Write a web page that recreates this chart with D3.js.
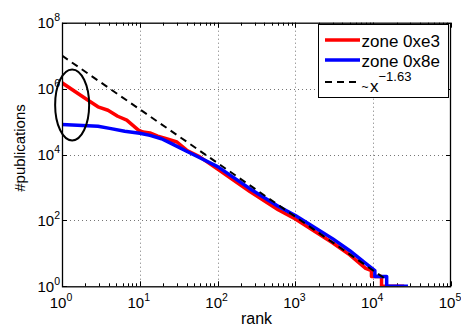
<!DOCTYPE html>
<html>
<head>
<meta charset="utf-8">
<script src="https://cdn.jsdelivr.net/npm/d3@7"></script>
<style>
  body { margin: 0; background: #fff; }
  svg { display: block; font-family: "Liberation Sans", Arial, sans-serif; }
</style>
</head>
<body>
<div id="chart"></div>
<script>
// zone 0xe3 (red)
const redRank = [1, 2, 2.9, 3.9, 5.2, 6.8, 9.6, 11, 13.5, 17, 22, 30, 40, 59, 100, 260, 600, 1000, 3000, 5000, 8000, 9500, 9500, 12800, 12800, 25000];
const redVal  = [1.5e6, 5e5, 2.8e5, 2.2e5, 1.45e5, 1.1e5, 5.5e4, 4.8e4, 4.5e4, 3.6e4, 3.0e4, 2.4e4, 1.35e4, 8.5e3, 3.6e3, 750, 210, 110, 21, 9, 3.5, 3, 2, 2, 1, 1];

// zone 0x8e (blue)
const blueRank = [1, 2.9, 4.1, 6.4, 10, 13.5, 19, 26, 40, 60, 100, 260, 600, 1000, 3000, 5000, 8000, 10500, 10500, 14900, 14900, 28000];
const blueVal  = [8.1e4, 7.2e4, 6.2e4, 5.1e4, 4.4e4, 3.8e4, 3.0e4, 2.1e4, 1.25e4, 7.8e3, 4.3e3, 920, 270, 140, 28, 12, 5, 3, 2, 2, 1, 1];

// power law fit ~ x^-1.63
const fitCoef = 1e7;
const fitExp = -1.63;
const fitRank = [1, 15000];

const xTicks = [1, 10, 100, 1000, 10000, 100000];
const yTicks = [1, 100, 1e4, 1e6, 1e8];
const legendNames = ["zone 0xe3", "zone 0x8e"];

const W = 461, H = 329;
const pLeft = 62, pRight = 451, pTop = 22.7, pBottom = 286.3;

const svg = d3.select("#chart").append("svg")
  .attr("width", W)
  .attr("height", H);

const x = d3.scaleLog().domain([1, 1e5]).range([pLeft, pRight]);
const y = d3.scaleLog().domain([1, 1e8]).range([pBottom, pTop]);

svg.append("clipPath").attr("id", "plot")
  .append("rect")
  .attr("x", pLeft).attr("y", pTop)
  .attr("width", pRight - pLeft).attr("height", pBottom - pTop);

// grid
const grid = svg.append("g")
  .attr("stroke", "#666")
  .attr("stroke-width", 0.9)
  .attr("stroke-dasharray", "1,3");
grid.selectAll(".gx")
  .data(xTicks.slice(1, -1))
  .enter().append("line")
  .attr("x1", d => Math.round(x(d)) + 0.5).attr("x2", d => Math.round(x(d)) + 0.5)
  .attr("y1", pTop).attr("y2", pBottom);
grid.selectAll(".gy")
  .data(yTicks.slice(1, -1))
  .enter().append("line")
  .attr("y1", d => Math.round(y(d)) + 0.5).attr("y2", d => Math.round(y(d)) + 0.5)
  .attr("x1", pLeft).attr("x2", pRight);

// ticks
let minorX = [];
for (let e = 0; e < 5; e++) {
  for (let k = 2; k <= 9; k++) minorX.push(k * Math.pow(10, e));
}
const ticks = svg.append("g").attr("stroke", "#000").attr("stroke-width", 1);
minorX.forEach(function(d) {
  const px = Math.round(x(d)) + 0.5;
  ticks.append("line").attr("x1", px).attr("x2", px).attr("y1", pBottom).attr("y2", pBottom - 3);
  ticks.append("line").attr("x1", px).attr("x2", px).attr("y1", pTop).attr("y2", pTop + 3);
});
xTicks.forEach(function(d) {
  const px = Math.round(x(d)) + 0.5;
  ticks.append("line").attr("x1", px).attr("x2", px).attr("y1", pBottom).attr("y2", pBottom - 5);
  ticks.append("line").attr("x1", px).attr("x2", px).attr("y1", pTop).attr("y2", pTop + 5);
});
yTicks.forEach(function(d) {
  const py = Math.round(y(d)) + 0.5;
  ticks.append("line").attr("y1", py).attr("y2", py).attr("x1", pLeft).attr("x2", pLeft + 5);
  ticks.append("line").attr("y1", py).attr("y2", py).attr("x1", pRight).attr("x2", pRight - 5);
});

// data lines
const line = d3.line()
  .x(d => x(d[0]))
  .y(d => y(d[1]));

const plot = svg.append("g").attr("clip-path", "url(#plot)");

const redData = redRank.map((r, i) => [r, redVal[i]]);
const blueData = blueRank.map((r, i) => [r, blueVal[i]]);
const fitData = fitRank.map(r => [r, fitCoef * Math.pow(r, fitExp)]);

plot.append("path")
  .datum(redData)
  .attr("d", line)
  .attr("fill", "none")
  .attr("stroke", "#ff0000")
  .attr("stroke-width", 3.5)
  .attr("stroke-linejoin", "round");

plot.append("path")
  .datum(blueData)
  .attr("d", line)
  .attr("fill", "none")
  .attr("stroke", "#0000ff")
  .attr("stroke-width", 3.5)
  .attr("stroke-linejoin", "round");

plot.append("path")
  .datum(fitData)
  .attr("d", line)
  .attr("fill", "none")
  .attr("stroke", "#000")
  .attr("stroke-width", 2)
  .attr("stroke-dasharray", "7,5");

// box
svg.append("rect")
  .attr("x", pLeft + 0.5).attr("y", pTop + 0.5)
  .attr("width", pRight - pLeft - 1).attr("height", pBottom - pTop)
  .attr("fill", "none")
  .attr("stroke", "#000")
  .attr("stroke-width", 1.3);

// annotation ellipse around the first ranks
svg.append("ellipse")
  .attr("cx", x(1.35))
  .attr("cy", y(3.2e5))
  .attr("rx", 17)
  .attr("ry", 35.5)
  .attr("fill", "none")
  .attr("stroke", "#000")
  .attr("stroke-width", 2);

// tick labels
function powLabel(g, d, anchorX, baseY, anchor) {
  const t = g.append("text")
    .attr("x", anchorX)
    .attr("y", baseY)
    .attr("text-anchor", anchor)
    .attr("font-size", 15)
    .attr("fill", "#000");
  t.append("tspan").text("10");
  t.append("tspan")
    .attr("font-size", 10.5)
    .attr("dy", -7)
    .text(Math.round(Math.log10(d)));
}
const labels = svg.append("g");
xTicks.forEach(d => powLabel(labels, d, x(d) - 1, 308, "middle"));
yTicks.forEach(d => powLabel(labels, d, pLeft - 2, y(d) + 5.5, "end"));

// axis titles
svg.append("text")
  .attr("x", (pLeft + pRight) / 2)
  .attr("y", 324)
  .attr("text-anchor", "middle")
  .attr("font-size", 16)
  .text("rank");

svg.append("text")
  .attr("transform", "translate(25," + 148 + ") rotate(-90)")
  .attr("text-anchor", "middle")
  .attr("font-size", 15)
  .text("#publications");

// legend
const lg = svg.append("g");
lg.append("rect")
  .attr("x", 318.5).attr("y", 24.5)
  .attr("width", 130).attr("height", 73)
  .attr("fill", "#fff")
  .attr("stroke", "#000")
  .attr("stroke-width", 1);

const legendColors = ["#ff0000", "#0000ff"];
legendNames.forEach(function(name, i) {
  const ly = 40 + i * 20;
  lg.append("line")
    .attr("x1", 325).attr("x2", 360)
    .attr("y1", ly).attr("y2", ly)
    .attr("stroke", legendColors[i])
    .attr("stroke-width", 3.5);
  lg.append("text")
    .attr("x", 361.5).attr("y", ly + 6.5)
    .attr("font-size", 17)
    .text(name);
});
lg.append("line")
  .attr("x1", 325).attr("x2", 360)
  .attr("y1", 82).attr("y2", 82)
  .attr("stroke", "#000")
  .attr("stroke-width", 2)
  .attr("stroke-dasharray", "7,5");
lg.append("text")
  .attr("x", 361.5).attr("y", 91)
  .attr("font-size", 12)
  .text("~");
const ft = lg.append("text")
  .attr("x", 370).attr("y", 92)
  .attr("font-size", 17);
ft.append("tspan").text("x");
ft.append("tspan").attr("font-size", 13).attr("dy", -11).text("\u22121.63");
</script>
</body>
</html>
